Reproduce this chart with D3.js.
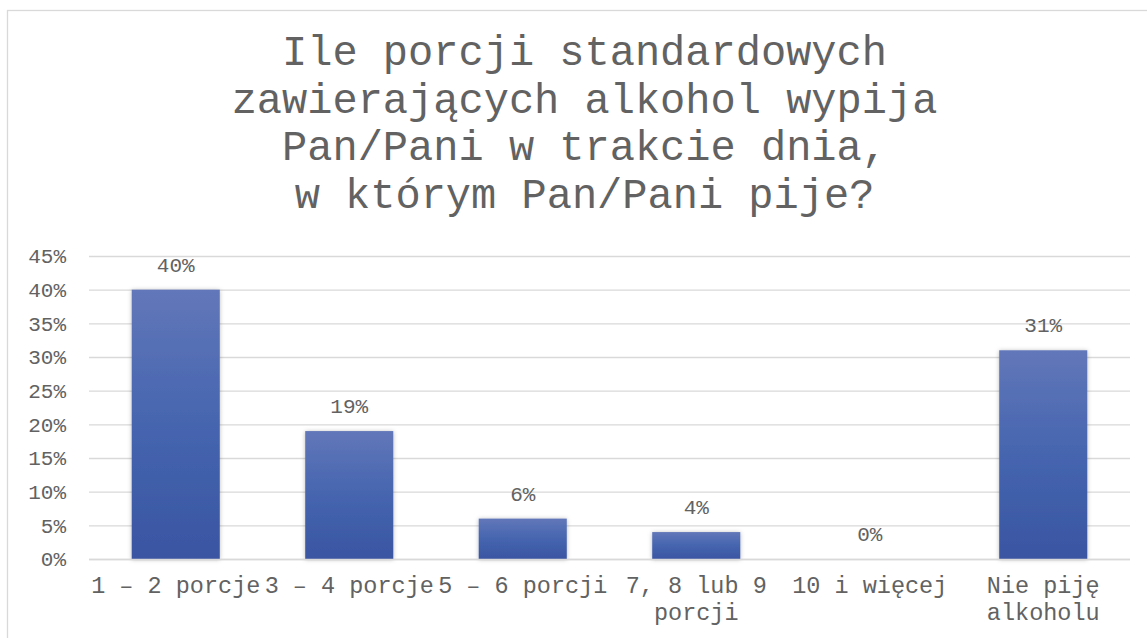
<!DOCTYPE html>
<html lang="pl">
<head>
<meta charset="utf-8">
<script src="https://cdn.jsdelivr.net/npm/d3@7"></script>
<style>
  html, body { margin: 0; padding: 0; background: #fff; }
  svg { display: block; font-family: "Liberation Mono", "Courier New", monospace; }
</style>
</head>
<body>
<svg id="chart" width="1147" height="638"></svg>
<script>
const titleLines = [
  "Ile porcji standardowych",
  "zawierających alkohol wypija",
  "Pan/Pani w trakcie dnia,",
  "w którym Pan/Pani pije?"
];
const categories = [
  "1 – 2 porcje",
  "3 – 4 porcje",
  "5 – 6 porcji",
  "7, 8 lub 9\nporcji",
  "10 i więcej",
  "Nie piję\nalkoholu"
];
const values = [0.40, 0.19, 0.06, 0.04, 0.00, 0.31];
const yTicks = [0, 0.05, 0.10, 0.15, 0.20, 0.25, 0.30, 0.35, 0.40, 0.45];

const svg = d3.select("#chart");
const textColor = "#626262";
const gridColor = "#d9d9d9";
const margin = { top: 256, right: 17, bottom: 79, left: 89 };
const width = 1147 - margin.left - margin.right;
const height = 638 - margin.top - margin.bottom;

// chart frame (runs off the right and bottom edge like the original)
svg.append("rect")
  .attr("x", 7.5).attr("y", 10.5)
  .attr("width", 1160).attr("height", 640)
  .attr("fill", "#fff").attr("stroke", gridColor).attr("stroke-width", 1.3);

const defs = svg.append("defs");
const grad = defs.append("linearGradient").attr("id", "barGrad")
  .attr("x1", 0).attr("y1", 0).attr("x2", 0).attr("y2", 1);
grad.append("stop").attr("offset", "0%").attr("stop-color", "#6277b9");
grad.append("stop").attr("offset", "50%").attr("stop-color", "#4565af");
grad.append("stop").attr("offset", "100%").attr("stop-color", "#3a55a2");
const shadow = defs.append("filter").attr("id", "barShadow")
  .attr("x", "-20%").attr("y", "-20%").attr("width", "140%").attr("height", "140%");
shadow.append("feDropShadow").attr("dx", 0).attr("dy", 0.5)
  .attr("stdDeviation", 2).attr("flood-color", "#000").attr("flood-opacity", 0.28);

// title
const title = svg.append("text")
  .attr("text-anchor", "middle")
  .attr("fill", textColor)
  .style("font-size", "42px");
titleLines.forEach((line, i) => {
  title.append("tspan").attr("x", 584.5).attr("y", 65 + i * 47.5).text(line);
});

const g = svg.append("g").attr("transform", `translate(${margin.left},${margin.top})`);
const x = d3.scaleBand().domain(categories).range([0, width]).paddingInner(0.4924).paddingOuter(0.2462);
const y = d3.scaleLinear().domain([0, 0.45]).range([height, 0]);

// gridlines
g.append("g")
  .call(d3.axisLeft(y).tickValues(yTicks).tickSize(-width).tickFormat(""))
  .call((axis) => axis.select(".domain").remove())
  .call((axis) => axis.selectAll("line").attr("stroke", gridColor).attr("stroke-width", 1.3));

// y tick labels
g.append("g")
  .call(d3.axisLeft(y).tickValues(yTicks).tickSize(0).tickPadding(23).tickFormat(d3.format(".0%")))
  .call((axis) => axis.select(".domain").remove())
  .call((axis) => axis.selectAll("text").attr("fill", textColor).style("font-size", "21px")
    .style("font-family", "'Liberation Mono', 'Courier New', monospace"));

// bars
g.selectAll("rect.bar")
  .data(values)
  .join("rect")
  .attr("class", "bar")
  .attr("x", (d, i) => x(categories[i]))
  .attr("y", (d) => y(d))
  .attr("width", x.bandwidth())
  .attr("height", (d) => height - y(d))
  .attr("fill", "url(#barGrad)")
  .attr("filter", "url(#barShadow)");

// x axis line
g.append("line")
  .attr("x1", 0).attr("x2", width)
  .attr("y1", height + 0.5).attr("y2", height + 0.5)
  .attr("stroke", gridColor).attr("stroke-width", 1.6);

// data labels
g.selectAll("text.value")
  .data(values)
  .join("text")
  .attr("class", "value")
  .attr("x", (d, i) => x(categories[i]) + x.bandwidth() / 2)
  .attr("y", (d) => y(d) - 18)
  .attr("text-anchor", "middle")
  .attr("fill", textColor)
  .style("font-size", "21px")
  .text((d) => d3.format(".0%")(d));

// x category labels
const xAxis = g.append("g")
  .attr("transform", `translate(0,${height})`)
  .call(d3.axisBottom(x).tickSize(0).tickFormat(""))
  .call((axis) => axis.select(".domain").remove());
xAxis.selectAll(".tick").each(function (cat) {
  const t = d3.select(this).append("text")
    .attr("text-anchor", "middle")
    .attr("fill", textColor)
    .style("font-size", "23.5px")
    .style("font-family", "'Liberation Mono', 'Courier New', monospace");
  cat.split("\n").forEach((line, i) => {
    t.append("tspan").attr("x", 0).attr("y", 34 + i * 27).text(line);
  });
});
</script>
</body>
</html>
